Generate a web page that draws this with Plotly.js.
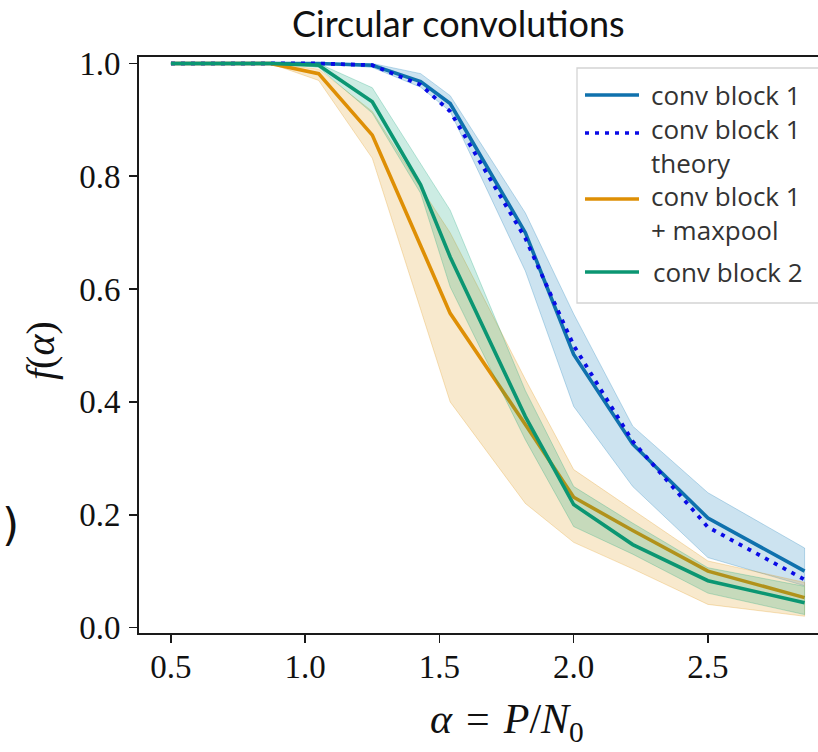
<!DOCTYPE html>
<html>
<head>
<meta charset="utf-8">
<script src="https://cdn.plot.ly/plotly-3.0.1.min.js"></script>
<style>
html,body{margin:0;padding:0;background:#fff;}
#chart{width:818px;height:752px;}
</style>
</head>
<body>
<div id="chart"></div>
<script>
// ---- data ----
const alpha = [0.5, 0.67, 0.87, 1.05, 1.25, 1.43, 1.54, 1.82, 2.0, 2.22, 2.5, 2.86];

const block1      = [1, 1, 1, 1, 0.997, 0.968, 0.929, 0.70, 0.484, 0.325, 0.194, 0.100];
const block1Upper = [1, 1, 1, 1, 1.0,   0.982, 0.943, 0.735, 0.556, 0.357, 0.239, 0.141];
const block1Lower = [1, 1, 1, 1, 0.993, 0.958, 0.915, 0.632, 0.392, 0.250, 0.124, 0.074];

const block1Theory = [1, 1, 1, 1, 0.997, 0.962, 0.915, 0.69, 0.50, 0.33, 0.178, 0.085];

const maxpool      = [1, 1, 1, 0.982, 0.873, 0.677, 0.557, 0.36, 0.231, 0.172, 0.100, 0.053];
const maxpoolUpper = [1, 1, 1, 0.99,  0.915, 0.78,  0.70,  0.44, 0.28,  0.208, 0.118, 0.080];
const maxpoolLower = [1, 1, 1, 0.97,  0.832, 0.564, 0.40,  0.22, 0.151, 0.104, 0.041, 0.020];

const block2      = [1, 1, 1, 0.997, 0.932, 0.785, 0.657, 0.374, 0.218, 0.147, 0.083, 0.044];
const block2Upper = [1, 1, 1, 1.0,   0.957, 0.822, 0.740, 0.42,  0.25,  0.185, 0.106, 0.073];
const block2Lower = [1, 1, 1, 0.993, 0.912, 0.77,  0.604, 0.333, 0.179, 0.13,  0.061, 0.023];

const xTicks = [0.5, 1.0, 1.5, 2.0, 2.5];
const xTickText = ['0.5', '1.0', '1.5', '2.0', '2.5'];
const yTicks = [0, 0.2, 0.4, 0.6, 0.8, 1.0];
const yTickText = ['0.0', '0.2', '0.4', '0.6', '0.8', '1.0'];

const legendLabels = ['conv block 1', 'conv block 1<br>theory', 'conv block 1<br>+ maxpool', 'conv block 2'];

// ---- styles ----
const BLUE = '#0f71ad', ORANGE = '#de8f05', GREEN = '#0b9672', THEORY = '#0a0ae6';

function band(lower, upper, rgb) {
  return {
    x: alpha.concat(alpha.slice().reverse()),
    y: lower.concat(upper.slice().reverse()),
    type: 'scatter', mode: 'lines', fill: 'toself',
    fillcolor: 'rgba(' + rgb + ',0.2)',
    line: {color: 'rgba(' + rgb + ',0.25)', width: 1},
    hoverinfo: 'skip', showlegend: false
  };
}
function line(y, color, name, dash, width) {
  return {x: alpha, y: y, type: 'scatter', mode: 'lines', name: name,
          line: {color: color, width: width || 3.6, dash: dash || 'solid'}, showlegend: false};
}

const traces = [
  band(block1Lower, block1Upper, '1,115,178'),
  line(block1, BLUE, 'conv block 1'),
  line(block1Theory, THEORY, 'conv block 1 theory', '4px,6px', 3.8),
  band(maxpoolLower, maxpoolUpper, '222,143,5'),
  line(maxpool, ORANGE, 'conv block 1 + maxpool'),
  band(block2Lower, block2Upper, '2,158,115'),
  line(block2, GREEN, 'conv block 2')
];

// ---- layout helpers (pixel -> paper) ----
const L = 139, T = 57, W = 679, H = 576;
const px = v => (v - L) / W;
const py = v => (T + H - v) / H;

const shapes = [];
const annotations = [];

// legend box
shapes.push({type: 'rect', xref: 'paper', yref: 'paper', x0: px(577), x1: px(845), y0: py(68), y1: py(303),
             line: {color: '#d4d4d4', width: 1.3}, fillcolor: 'rgba(255,255,255,0.9)', layer: 'above'});
const legColors = [BLUE, THEORY, ORANGE, GREEN];
const legDash = ['solid', '4px,6px', 'solid', 'solid'];
const legLineY = [95, 133, 199, 272];
const legTextY = [95, 145.5, 213.5, 272];
for (let i = 0; i < 4; i++) {
  shapes.push({type: 'line', xref: 'paper', yref: 'paper', x0: px(585), x1: px(639), y0: py(legLineY[i]), y1: py(legLineY[i]),
               line: {color: legColors[i], width: i === 1 ? 3.5 : 3.4, dash: legDash[i]}, layer: 'above'});
  annotations.push({text: legendLabels[i], xref: 'paper', yref: 'paper', x: px(i === 3 ? 652 : 650), y: py(legTextY[i]),
                    xanchor: 'left', yanchor: 'middle', align: 'left', showarrow: false, borderpad: 0,
                    font: {family: 'Open Sans', size: 26, color: '#333333'}});
}
// title
annotations.push({text: 'Circular convolutions', xref: 'paper', yref: 'paper', x: px(458), y: py(23),
                  xanchor: 'center', yanchor: 'middle', showarrow: false,
                  font: {family: 'Lato', size: 36, color: '#111111'}});
// axis titles
annotations.push({text: '<i>α</i>\u2004=\u2004<i>P</i>/<i>N</i><sub>0</sub>', xref: 'paper', yref: 'paper', x: px(507), y: py(722),
                  xanchor: 'center', yanchor: 'middle', showarrow: false, borderpad: 0,
                  font: {family: 'Liberation Serif', size: 42, color: '#111111'}});
annotations.push({text: '<i>f</i>(<i>α</i>)', xref: 'paper', yref: 'paper', x: px(40), y: py(351),
                  xanchor: 'center', yanchor: 'middle', showarrow: false, textangle: -90,
                  font: {family: 'Liberation Serif', size: 40, color: '#111111'}});
// fragment of a neighbouring panel label at the left edge
annotations.push({text: ')', xref: 'paper', yref: 'paper', x: px(0), y: py(524),
                  xanchor: 'left', yanchor: 'middle', showarrow: false,
                  font: {family: 'DejaVu Sans', size: 44, color: '#111111'}});

const axisCommon = {showgrid: false, zeroline: false, showline: true, linecolor: '#1a1a1a', linewidth: 2,
                    ticks: 'outside', ticklen: 8, tickwidth: 1.6, tickcolor: '#1a1a1a',
                    tickfont: {family: 'Liberation Serif', size: 33, color: '#111111'}};

const layout = {
  width: 818, height: 752,
  margin: {l: L, r: 818 - L - W, t: T, b: 752 - T - H, pad: 0},
  paper_bgcolor: '#ffffff', plot_bgcolor: '#ffffff',
  showlegend: false,
  xaxis: Object.assign({}, axisCommon, {range: [0.381, 2.910], tickvals: xTicks, ticktext: xTickText, mirror: true, ticklabelstandoff: -5}),
  yaxis: Object.assign({}, axisCommon, {range: [-0.0097, 1.0115], tickvals: yTicks, ticktext: yTickText, mirror: false, ticklabelstandoff: 2}),
  shapes: shapes,
  annotations: annotations
};

Plotly.newPlot('chart', traces, layout, {displayModeBar: false, staticPlot: true});
</script>
</body>
</html>
